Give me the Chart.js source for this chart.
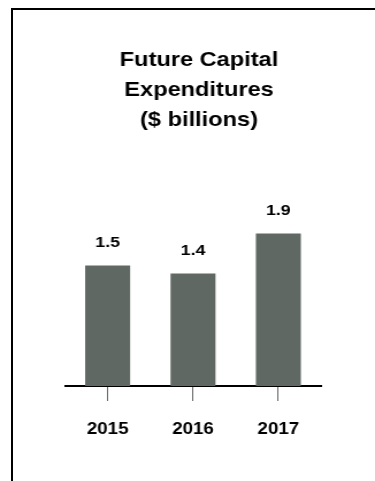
<!DOCTYPE html>
<html>
<head>
<meta charset="utf-8">
<script src="https://cdn.jsdelivr.net/npm/chart.js@4"></script>
<style>
  html, body { margin: 0; padding: 0; background: #fff; overflow: hidden; }
  #wrap { position: relative; width: 375px; height: 481px; }
  #frame {
    position: absolute; left: 11px; top: 8px; right: 0; bottom: 0;
    border-left: 2px solid #000; border-top: 2px solid #000;
    pointer-events: none;
  }
  #c {
    position: absolute; left: 0; top: 0;
    width: 326px; height: 481px;
    transform: scaleX(1.1503); transform-origin: 0 0;
  }
</style>
</head>
<body>
<div id="wrap">
  <canvas id="c" width="326" height="481"></canvas>
  <div id="frame"></div>
</div>
<script>
// Capital expenditure outlook, $ billions
const categories = ['2015', '2016', '2017'];
const capex = [1.5, 1.4, 1.9];
const titleLines = ['Future Capital', 'Expenditures', '($ billions)'];

const FONT = "'Liberation Sans', Arial, Helvetica, sans-serif";

// value labels printed above each bar
const barValueLabels = {
  id: 'barValueLabels',
  afterDatasetsDraw(chart) {
    const ctx = chart.ctx;
    const meta = chart.getDatasetMeta(0);
    ctx.save();
    ctx.font = 'bold 15.5px ' + FONT;
    ctx.fillStyle = '#000';
    ctx.textAlign = 'center';
    ctx.textBaseline = 'middle';
    meta.data.forEach((bar, i) => {
      ctx.fillText(capex[i].toFixed(1), bar.x, bar.y - 22.5);
    });
    ctx.restore();
  }
};

new Chart(document.getElementById('c'), {
  type: 'bar',
  data: {
    labels: categories,
    datasets: [{
      data: capex,
      backgroundColor: '#5f6862',
      borderWidth: 0,
      barPercentage: 0.527,
      categoryPercentage: 1
    }]
  },
  options: {
    responsive: false,
    animation: false,
    layout: { padding: { left: 56.5, right: 36.5, top: 0, bottom: 0 } },
    plugins: {
      legend: { display: false },
      tooltip: { enabled: false },
      title: {
        display: true,
        text: titleLines,
        color: '#000',
        font: { family: FONT, size: 20.5, weight: 'bold', lineHeight: '30px' },
        padding: { top: 45, bottom: 50.25 }
      }
    },
    scales: {
      x: {
        offset: true,
        grid: {
          display: true,
          offset: false,
          drawOnChartArea: false,
          drawTicks: true,
          tickLength: 15,
          tickWidth: 1,
          tickColor: '#666'
        },
        border: { display: true, color: '#000', width: 2 },
        ticks: {
          color: '#000',
          padding: 19.2,
          font: { family: FONT, size: 16.3, weight: 'bold' }
        },
        afterFit(scale) { scale.height = 95; }
      },
      y: {
        position: 'right',
        min: 0,
        max: 2.5,
        grid: { display: false },
        border: { display: false },
        ticks: { display: false },
        afterFit(scale) { scale.width = 10.44; }
      }
    }
  },
  plugins: [barValueLabels]
});
</script>
</body>
</html>
